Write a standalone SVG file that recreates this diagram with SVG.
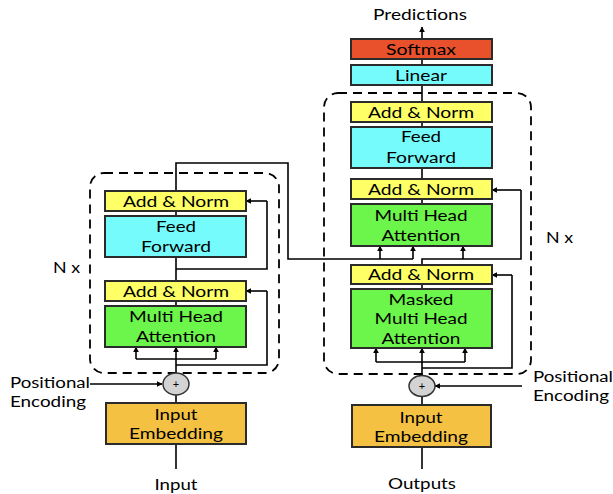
<svg xmlns="http://www.w3.org/2000/svg" width="613" height="494" viewBox="0 0 613 494">
<defs>
<marker id="ah" viewBox="0 0 10 10" refX="9" refY="5" markerWidth="6" markerHeight="6" markerUnits="userSpaceOnUse" orient="auto">
<path d="M0,0 L10,5 L0,10 z" fill="#000"/>
</marker>
<style>
.box{stroke:#2b2b2b;stroke-width:2}
.yel{fill:#FFFF66}
.cy{fill:#76FBFD}
.gr{fill:#6CF54A}
.sm{fill:#E8512B}
.emb{fill:#F4C142}
.t{font-family:Lato,"Open Sans","Liberation Sans",sans-serif;font-size:16px;fill:#000;text-anchor:middle}
.lbl{font-family:Lato,"Open Sans","Liberation Sans",sans-serif;font-size:15.5px;fill:#000}
.ln{fill:none;stroke:#000;stroke-width:1.6}
.ar{fill:none;stroke:#000;stroke-width:1.6;marker-end:url(#ah)}
.dash{fill:none;stroke:#000;stroke-width:1.8;stroke-dasharray:9,6}
.circ{fill:#D3D3D3;stroke:#333;stroke-width:1.5}
</style>
</defs>
<rect width="613" height="494" fill="#fff"/>

<!-- dashed stacks -->
<g id="encoder-stack"><rect class="dash" x="90" y="173" width="189" height="200" rx="14"/></g>
<g id="decoder-stack"><rect class="dash" x="324" y="93" width="207" height="281" rx="14"/></g>

<g id="connectors">
<!-- encoder -->
<path class="ln" d="M176,469 V444"/>
<path class="ln" d="M176,403 V395"/>
<path class="ar" d="M90,384 H162"/>
<path class="ar" d="M176,373 V347"/>
<path class="ln" d="M136,359 H216"/>
<path class="ar" d="M136,359 V347"/>
<path class="ar" d="M216,359 V347"/>
<path class="ln" d="M176,365 H267 V291"/>
<path class="ar" d="M267,291 H246"/>
<path class="ln" d="M176,301 V306"/>
<path class="ln" d="M176,257 V281"/>
<path class="ln" d="M176,269 H267 V201"/>
<path class="ar" d="M267,201 H246"/>
<path class="ln" d="M176,211 V216"/>
<path class="ln" d="M176,191 V163 H288 V259 H413"/>
<path class="ar" d="M380,259 V246"/>
<path class="ar" d="M413,259 V246"/>
<!-- decoder -->
<path class="ln" d="M422,469 V447"/>
<path class="ln" d="M422,405 V396"/>
<path class="ar" d="M522,386 H435"/>
<path class="ar" d="M422,376 V348"/>
<path class="ln" d="M376,362 H465"/>
<path class="ar" d="M376,362 V348"/>
<path class="ar" d="M465,362 V348"/>
<path class="ln" d="M422,368 H512 V275"/>
<path class="ar" d="M512,275 H492"/>
<path class="ln" d="M422,284 V289"/>
<path class="ln" d="M422,265 V259 H521 V190"/>
<path class="ar" d="M521,190 H492"/>
<path class="ar" d="M463,259 V246"/>
<path class="ln" d="M422,199 V204"/>
<path class="ln" d="M422,168 V179"/>
<path class="ln" d="M422,122 V127"/>
<path class="ln" d="M422,85 V102"/>
<path class="ln" d="M422,59 V65"/>
<path class="ar" d="M422,39 V27"/>
</g>

<!-- encoder nodes -->
<g id="enc-addnorm2"><rect class="box yel" x="105" y="191" width="141" height="20"/><text class="t" x="176" y="206.5" textLength="106" lengthAdjust="spacingAndGlyphs">Add &amp; Norm</text></g>
<g id="enc-ff"><rect class="box cy" x="105" y="216" width="141" height="41"/><text class="t" x="176" y="232" textLength="40" lengthAdjust="spacingAndGlyphs">Feed</text><text class="t" x="176" y="252" textLength="70" lengthAdjust="spacingAndGlyphs">Forward</text></g>
<g id="enc-addnorm1"><rect class="box yel" x="105" y="281" width="141" height="20"/><text class="t" x="176" y="296.5" textLength="106" lengthAdjust="spacingAndGlyphs">Add &amp; Norm</text></g>
<g id="enc-mha"><rect class="box gr" x="105" y="306" width="141" height="41"/><text class="t" x="176" y="322" textLength="94" lengthAdjust="spacingAndGlyphs">Multi Head</text><text class="t" x="176" y="342" textLength="80" lengthAdjust="spacingAndGlyphs">Attention</text></g>
<g id="enc-plus"><ellipse class="circ" cx="176" cy="384" rx="13" ry="11"/><text x="176" y="388" font-family="Lato, sans-serif" font-size="11" text-anchor="middle">+</text></g>
<g id="enc-emb"><rect class="box emb" x="106" y="403" width="140" height="41"/><text class="t" x="176" y="420" textLength="43" lengthAdjust="spacingAndGlyphs">Input</text><text class="t" x="176" y="439" textLength="94" lengthAdjust="spacingAndGlyphs">Embedding</text></g>
<g id="enc-labels">
<text class="lbl" x="10" y="388" textLength="80" lengthAdjust="spacingAndGlyphs">Positional</text>
<text class="lbl" x="10" y="407" textLength="76" lengthAdjust="spacingAndGlyphs">Encoding</text>
<text class="t" x="176" y="490" textLength="43" lengthAdjust="spacingAndGlyphs">Input</text>
<text class="lbl" x="53" y="273" textLength="27" lengthAdjust="spacingAndGlyphs">N x</text>
</g>

<!-- decoder nodes -->
<g id="dec-softmax"><rect class="box sm" x="351" y="39" width="141" height="20"/><text class="t" x="421" y="54.5" textLength="70" lengthAdjust="spacingAndGlyphs">Softmax</text></g>
<g id="dec-linear"><rect class="box cy" x="351" y="65" width="141" height="20"/><text class="t" x="421" y="80.5" textLength="52" lengthAdjust="spacingAndGlyphs">Linear</text></g>
<g id="dec-addnorm3"><rect class="box yel" x="351" y="102" width="141" height="20"/><text class="t" x="421" y="117.5" textLength="106" lengthAdjust="spacingAndGlyphs">Add &amp; Norm</text></g>
<g id="dec-ff"><rect class="box cy" x="351" y="127" width="141" height="41"/><text class="t" x="421" y="142" textLength="40" lengthAdjust="spacingAndGlyphs">Feed</text><text class="t" x="421" y="163" textLength="70" lengthAdjust="spacingAndGlyphs">Forward</text></g>
<g id="dec-addnorm2"><rect class="box yel" x="351" y="179" width="141" height="20"/><text class="t" x="421" y="194.5" textLength="106" lengthAdjust="spacingAndGlyphs">Add &amp; Norm</text></g>
<g id="dec-mha"><rect class="box gr" x="351" y="204" width="141" height="42"/><text class="t" x="421" y="220.5" textLength="93" lengthAdjust="spacingAndGlyphs">Multi Head</text><text class="t" x="421" y="240.5" textLength="79" lengthAdjust="spacingAndGlyphs">Attention</text></g>
<g id="dec-addnorm1"><rect class="box yel" x="351" y="265" width="141" height="19"/><text class="t" x="421" y="280" textLength="106" lengthAdjust="spacingAndGlyphs">Add &amp; Norm</text></g>
<g id="dec-mmha"><rect class="box gr" x="351" y="289" width="141" height="59"/><text class="t" x="421" y="305" textLength="65" lengthAdjust="spacingAndGlyphs">Masked</text><text class="t" x="421" y="324" textLength="93" lengthAdjust="spacingAndGlyphs">Multi Head</text><text class="t" x="421" y="343.5" textLength="79" lengthAdjust="spacingAndGlyphs">Attention</text></g>
<g id="dec-plus"><ellipse class="circ" cx="422" cy="386" rx="13" ry="10.5"/><text x="422" y="390" font-family="Lato, sans-serif" font-size="11" text-anchor="middle">+</text></g>
<g id="dec-emb"><rect class="box emb" x="352" y="405" width="139" height="42"/><text class="t" x="421" y="422.5" textLength="43" lengthAdjust="spacingAndGlyphs">Input</text><text class="t" x="421" y="441.5" textLength="94" lengthAdjust="spacingAndGlyphs">Embedding</text></g>
<g id="dec-labels">
<text class="t" x="420" y="19.5" textLength="94" lengthAdjust="spacingAndGlyphs">Predictions</text>
<text class="t" x="422" y="489" textLength="68" lengthAdjust="spacingAndGlyphs">Outputs</text>
<text class="lbl" x="533" y="382" textLength="80" lengthAdjust="spacingAndGlyphs">Positional</text>
<text class="lbl" x="533" y="401" textLength="76" lengthAdjust="spacingAndGlyphs">Encoding</text>
<text class="lbl" x="546" y="243" textLength="27" lengthAdjust="spacingAndGlyphs">N x</text>
</g>
</svg>
